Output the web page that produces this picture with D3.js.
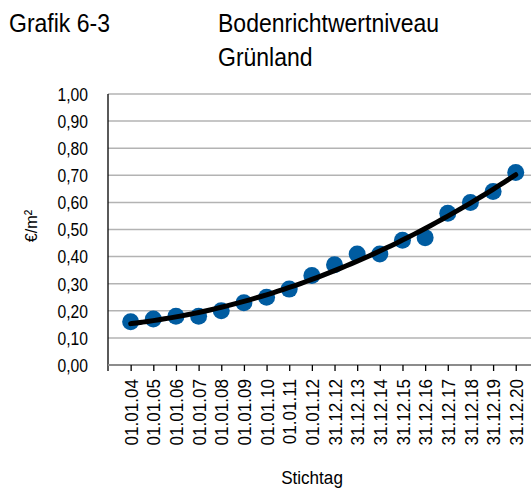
<!DOCTYPE html>
<html><head><meta charset="utf-8">
<script src="https://cdn.jsdelivr.net/npm/d3@7"></script>
<style>
html,body{margin:0;padding:0;background:#fff;}
svg text{font-family:"Liberation Sans",Arial,sans-serif;fill:#000;}
</style></head>
<body><svg id="c" width="531" height="488"></svg>
<script>
const categories = ["01.01.04","01.01.05","01.01.06","01.01.07","01.01.08","01.01.09","01.01.10","01.01.11","01.01.12","31.12.12","31.12.13","31.12.14","31.12.15","31.12.16","31.12.17","31.12.18","31.12.19","31.12.20"];
const values = [0.16,0.17,0.18,0.18,0.20,0.23,0.25,0.28,0.33,0.37,0.41,0.41,0.46,0.47,0.56,0.60,0.64,0.71];
const yTicks = [0,0.1,0.2,0.3,0.4,0.5,0.6,0.7,0.8,0.9,1.0];
const titleLeft = "Grafik 6-3";
const titleRight = ["Bodenrichtwertniveau","Grünland"];
const yTitle = "€/m²";
const xTitle = "Stichtag";

const svg = d3.select("#c");
const pLeft = 108, pTop = 94, pBottom = 365, pRight = 538.4;
const x = d3.scalePoint().domain(categories).range([pLeft, pRight]).padding(1);
const y = d3.scaleLinear().domain([0,1]).range([pBottom, pTop]);
const fmt = v => d3.format(".2f")(v).replace(".", ",");

// gridlines
svg.append("g").selectAll("line").data(yTicks.filter(d=>d>0)).join("line")
  .attr("x1", pLeft).attr("x2", 531).attr("y1", d=>y(d)).attr("y2", d=>y(d))
  .attr("stroke", "#b3b3b3").attr("stroke-width", 1.5);

// y axis
const ya = svg.append("g").attr("transform", `translate(${pLeft},0)`)
  .call(d3.axisLeft(y).tickValues(yTicks).tickFormat(fmt).tickSize(0));
ya.select(".domain").remove();
ya.selectAll("text").attr("font-size", 18).attr("font-family", null)
  .attr("x", 0).attr("dy", "0.35em").attr("transform", "translate(-20,0) scale(0.87,1)");
svg.append("line").attr("x1", pLeft).attr("x2", pLeft).attr("y1", pTop).attr("y2", pBottom+6)
  .attr("stroke", "#000").attr("stroke-width", 1.3);

// x axis
svg.append("line").attr("x1", pLeft).attr("x2", 531).attr("y1", pBottom).attr("y2", pBottom)
  .attr("stroke", "#8c8c8c").attr("stroke-width", 2);
const xa = svg.append("g").attr("transform", `translate(0,${pBottom})`)
  .call(d3.axisBottom(x).tickSize(6).tickPadding(0));
xa.select(".domain").remove();
xa.selectAll(".tick line").attr("stroke", "#000").attr("stroke-width", 1.3);
xa.selectAll("text").attr("font-size", 19).attr("font-family", null)
  .attr("transform", "translate(0,14) rotate(-90) scale(0.9,1)").attr("text-anchor", "end")
  .attr("dy", "0.35em").attr("y", 0).attr("x", 0);

// points
svg.append("g").selectAll("circle").data(values).join("circle")
  .attr("cx", (d,i)=>x(categories[i])).attr("cy", d=>y(d)).attr("r", 8.5)
  .attr("fill", "#005ca1");

// polynomial (2nd order) trendline fitted to the values
(function(){
  const n = values.length;
  let S = [0,0,0,0,0], T=[0,0,0];
  values.forEach((v,i)=>{const t=i+1; for(let k=0;k<5;k++) S[k]+=Math.pow(t,k); for(let k=0;k<3;k++) T[k]+=v*Math.pow(t,k);});
  const A = [[S[0],S[1],S[2],T[0]],[S[1],S[2],S[3],T[1]],[S[2],S[3],S[4],T[2]]];
  for(let i=0;i<3;i++){for(let j=i+1;j<3;j++){const f=A[j][i]/A[i][i]; for(let k=i;k<4;k++) A[j][k]-=f*A[i][k];}}
  const c=[0,0,0];
  for(let i=2;i>=0;i--){let s=A[i][3]; for(let k=i+1;k<3;k++) s-=A[i][k]*c[k]; c[i]=s/A[i][i];}
  const pts = d3.range(1, n+0.001, 0.25).map(t=>[t, c[0]+c[1]*t+c[2]*t*t]);
  const step = x.step();
  const line = d3.line().x(p=>x(categories[0])+(p[0]-1)*step).y(p=>y(p[1])).curve(d3.curveBasis);
  svg.append("path").datum(pts).attr("d", line).attr("fill","none").attr("stroke","#000").attr("stroke-width",5).attr("stroke-linecap","round");
})();

// titles
function txt(s, tx, ty, size, sx, anchor, rot){
  return svg.append("text")
    .attr("transform", `translate(${tx},${ty})${rot?` rotate(${rot})`:""} scale(${sx},1)`)
    .attr("text-anchor", anchor||"start").attr("font-size", size).text(s);
}
txt(titleLeft, 9, 32, 25, 0.92);
txt(titleRight[0], 218, 32, 25, 0.92);
txt(titleRight[1], 218, 66, 25, 0.92);
txt(yTitle, 37, 226, 17, 0.95, "middle", -90);
txt(xTitle, 312, 484, 19, 0.9, "middle");
</script></body></html>
